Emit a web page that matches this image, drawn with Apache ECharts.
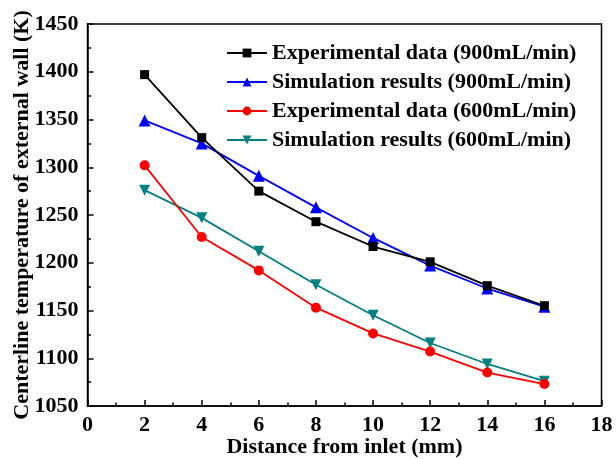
<!DOCTYPE html>
<html><head><meta charset="utf-8">
<script src="https://cdn.jsdelivr.net/npm/echarts@6/dist/echarts.min.js"></script>
<style>html,body{margin:0;padding:0;background:#fff}#c{width:616px;height:459px}</style>
</head><body><div id="c"></div>
<script>
const xs = [2, 4, 6, 8, 10, 12, 14, 16];
const exp900 = [1397, 1331, 1275, 1243, 1217, 1201, 1176, 1155];
const sim900 = [1349, 1325, 1291, 1258, 1226, 1197, 1173, 1154];
const exp600 = [1302, 1227, 1192, 1153, 1126, 1107, 1085, 1073];
const sim600 = [1276, 1247, 1212, 1177, 1145, 1116, 1094, 1076];
const names = ['Experimental data (900mL/min)', 'Simulation results (900mL/min)', 'Experimental data (600mL/min)', 'Simulation results (600mL/min)'];
const colors = ['#000000', '#0000ff', '#ff0000', '#008080'];
const symbols = ['rect', 'triangle', 'circle', 'path://M0,0 L10,0 L5,9 Z'];
const sizes = [9, 12, 10, 11];
const seriesVals = [exp900, sim900, exp600, sim600];
const font = 'Liberation Serif';
const chart = echarts.init(document.getElementById('c'));
chart.setOption({
  animation: false,
  grid: {left: 87.5, right: 14.5, top: 24, bottom: 53, show: true, borderColor: '#000', borderWidth: 1.5, containLabel: false, outerBoundsMode: 'none'},
  legend: {
    orient: 'vertical', left: 221, top: 37, itemGap: 7, itemWidth: 40, itemHeight: 11,
    textStyle: {fontFamily: font, fontWeight: 'bold', fontSize: 22, color: '#000'},
    data: names
  },
  xAxis: {
    type: 'value', min: 0, max: 18, interval: 2,
    axisLine: {show: true, lineStyle: {color: '#000', width: 1.5}},
    axisTick: {show: true, inside: true, length: 6, lineStyle: {color: '#000', width: 1.5}},
    minorTick: {show: true, splitNumber: 2, length: 3.5, lineStyle: {color: '#000', width: 1.5}},
    splitLine: {show: false},
    axisLabel: {fontFamily: font, fontWeight: 'bold', fontSize: 22, color: '#000', margin: 8},
    name: 'Distance from inlet (mm)', nameLocation: 'middle', nameGap: 30, nameMoveOverlap: false,
    nameTextStyle: {fontFamily: font, fontWeight: 'bold', fontSize: 22, color: '#000'}
  },
  yAxis: {
    type: 'value', min: 1050, max: 1450, interval: 50,
    axisLine: {show: true, lineStyle: {color: '#000', width: 1.5}},
    axisTick: {show: true, inside: true, length: 6, lineStyle: {color: '#000', width: 1.5}},
    minorTick: {show: true, splitNumber: 2, length: 3.5, lineStyle: {color: '#000', width: 1.5}},
    splitLine: {show: false},
    axisLabel: {fontFamily: font, fontWeight: 'bold', fontSize: 22, color: '#000', margin: 9, formatter: v => String(v)},
    name: 'Centerline temperature of external wall (K)', nameLocation: 'middle', nameGap: 54, nameMoveOverlap: false,
    nameTextStyle: {fontFamily: font, fontWeight: 'bold', fontSize: 22, color: '#000'}
  },
  series: seriesVals.map((vals, i) => ({
    name: names[i], type: 'line',
    data: xs.map((x, j) => [x, vals[j]]),
    symbol: symbols[i], symbolSize: sizes[i], showAllSymbol: true,
    lineStyle: {color: colors[i], width: 1.8},
    itemStyle: {color: colors[i], borderWidth: 0},
    z: 10 - i
  }))
});
</script></body></html>
